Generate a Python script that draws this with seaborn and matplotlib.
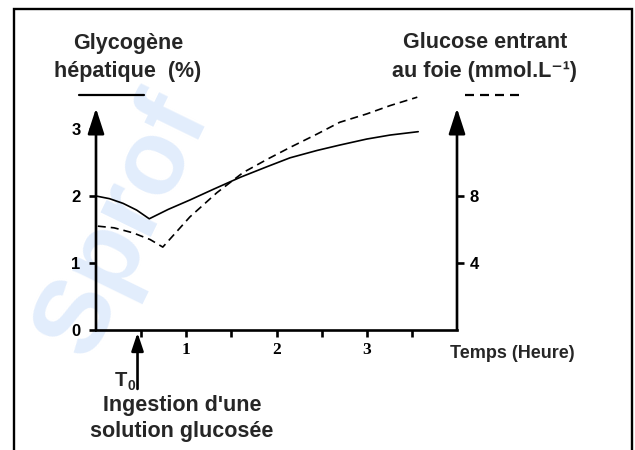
import matplotlib
matplotlib.use("Agg")
import matplotlib.pyplot as plt
import seaborn as sns
from matplotlib.patches import Rectangle
from matplotlib.lines import Line2D

# temps (heure) et glycogène hépatique (%)
temps_glycogene = [0.0, 0.15, 0.3, 0.45, 0.59, 0.8, 1.04, 1.3, 1.6, 1.9, 2.15, 2.45, 2.7, 3.0, 3.26, 3.57]
glycogene = [2.0, 1.96, 1.89, 1.79, 1.66, 1.80, 1.94, 2.10, 2.28, 2.44, 2.57, 2.68, 2.76, 2.85, 2.91, 2.96]

# temps (heure) et glucose entrant au foie (mmol/L)
temps_glucose = [0.02, 0.2, 0.41, 0.6, 0.74, 1.04, 1.34, 1.63, 1.9, 2.15, 2.45, 2.7, 3.0, 3.26, 3.56]
glucose = [6.2, 6.1, 5.8, 5.4, 4.95, 6.75, 8.2, 9.4, 10.2, 10.9, 11.7, 12.4, 12.9, 13.4, 13.9]

x_ticks = [0.5, 1, 1.5, 2, 2.5, 3, 3.5]
x_labels = ["", "1", "", "2", "", "3", ""]
y_left_ticks = [0, 1, 2, 3]
y_right_ticks = [4, 8]

sns.set_theme(style="white")
plt.rcParams["font.family"] = ["Liberation Sans", "DejaVu Sans"]
plt.rcParams["font.weight"] = "bold"

W, H = 635, 450


def fx(px):
    return px / W


def fy(py):
    return 1 - py / H


fig = plt.figure(figsize=(6.35, 4.5), dpi=100)

# filigrane (léger, en arrière-plan)
fig.text(fx(124), fy(225), "Sprof", rotation=64, fontsize=76, color="#e2edfc",
         ha="center", va="center", fontweight="bold", zorder=-5)

ax = fig.add_axes([fx(96), fy(330), (457 - 96) / W, 3.5 * 67 / H])
ax.set_facecolor("none")
ax.set_xlim(0, 4)
ax.set_ylim(0, 3.5)
ax2 = ax.twinx()
ax2.set_ylim(0, 14)
ax2.set_facecolor("none")

for a in (ax, ax2):
    for s in a.spines.values():
        s.set_visible(False)

ax.spines["bottom"].set_visible(True)
ax.spines["bottom"].set_linewidth(1.9)
ax.spines["bottom"].set_color("black")

sns.lineplot(x=temps_glycogene, y=glycogene, ax=ax, color="black", lw=1.2)
sns.lineplot(x=temps_glucose, y=glucose, ax=ax2, color="black", lw=1.2, dashes=False)
ax2.lines[0].set_dashes([4.8, 3.0])
ax2.lines[0].set_clip_on(False)

arrow = dict(arrowstyle="-|>,head_length=1.3,head_width=0.42", lw=1.9, color="black",
             shrinkA=0, shrinkB=0)
ax.annotate("", xy=(0, 3.31), xytext=(0, 0), arrowprops=arrow, annotation_clip=False)
ax.annotate("", xy=(4, 3.31), xytext=(4, 0), arrowprops=arrow, annotation_clip=False)

ax.set_xticks(x_ticks)
ax.set_xticklabels(x_labels, fontfamily="Liberation Serif", fontweight="bold", fontsize=12.5)
ax.set_yticks(y_left_ticks)
ax.set_yticklabels([str(v) for v in y_left_ticks], fontweight="bold", fontsize=12)
ax.tick_params(axis="x", bottom=True, direction="out", length=5, width=1.9, pad=4, colors="black")
ax.tick_params(axis="y", left=True, direction="out", length=5, width=1.9, pad=6, colors="black")
ax2.set_yticks(y_right_ticks)
ax2.set_yticklabels([str(v) for v in y_right_ticks], fontweight="bold", fontsize=12)
ax2.tick_params(axis="y", right=True, direction="out", length=5, width=1.9, pad=4, colors="black")
ax.set_xlabel("")
ax.set_ylabel("")
ax2.set_ylabel("")

# titres des axes
fig.text(fx(128), fy(43), "Glycogène", ha="center", va="center", fontsize=15.5, fontweight="bold")
fig.text(fx(128), fy(72), "hépatique  (%)", ha="center", va="center", fontsize=15.5, fontweight="bold")
fig.add_artist(Line2D([fx(79), fx(144)], [fy(95), fy(95)], color="black", lw=1.6))

fig.text(fx(485), fy(43), "Glucose entrant", ha="center", va="center", fontsize=15.5, fontweight="bold")
fig.text(fx(485), fy(72), "au foie (mmol.L⁻¹)", ha="center", va="center", fontsize=15.5, fontweight="bold")
fig.add_artist(Line2D([fx(465), fx(519)], [fy(95), fy(95)], color="black", lw=1.6,
                      dashes=[4.05, 2.7]))

fig.text(fx(512), fy(354), "Temps (Heure)", ha="center", va="center", fontsize=13, fontweight="bold")

# T0
ax.annotate("", xy=(0.46, -0.04), xytext=(0.46, -0.88), arrowprops=dict(
    arrowstyle="-|>,head_length=0.9,head_width=0.3", lw=1.9, color="black", shrinkA=0, shrinkB=0),
    annotation_clip=False)
fig.text(fx(127), fy(381), "T", ha="right", va="center", fontsize=14.5, fontweight="bold")
fig.text(fx(127), fy(386), "0", ha="left", va="center", fontsize=10, fontweight="bold")
fig.text(fx(182), fy(405), "Ingestion d'une", ha="center", va="center", fontsize=15.5, fontweight="bold")
fig.text(fx(182), fy(432), "solution glucosée", ha="center", va="center", fontsize=15.5, fontweight="bold")

# cadre
fig.patches.append(Rectangle((fx(14), -0.05), (632 - 14) / W, fy(9) + 0.05,
                             transform=fig.transFigure, fill=False, lw=1.7, ec="black"))

fig.savefig("out.png", dpi=100)
